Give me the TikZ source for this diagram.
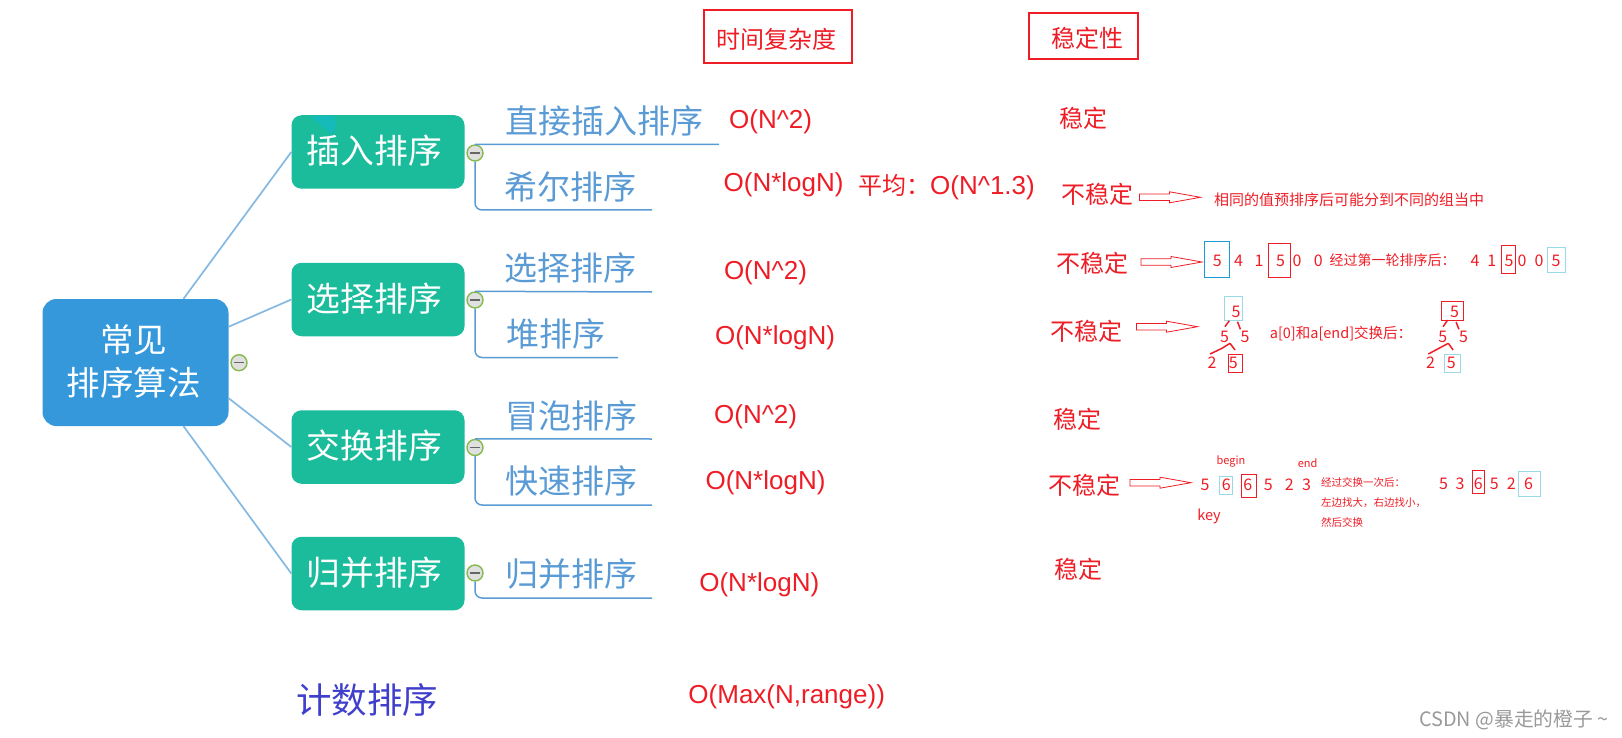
\documentclass[tikz,border=0pt]{standalone}
\usepackage{fontspec}
\setmainfont{Noto Sans CJK SC}
\newfontfamily\latinfont{Liberation Sans}
\usepackage{tikz}
\usetikzlibrary{calc}
\definecolor{rootblue}{HTML}{3498DB}
\definecolor{childgreen}{HTML}{1ABC9C}
\definecolor{leafblue}{HTML}{5B9BD5}
\definecolor{linkblue}{HTML}{85B9E2}
\definecolor{markred}{HTML}{EE1C25}
\definecolor{boxcyan}{HTML}{99D9EA}
\definecolor{boxblue}{HTML}{1A9AD6}
\definecolor{countblue}{HTML}{3F3FCC}
\definecolor{togglegreen}{HTML}{86B94E}
\definecolor{tealmark}{HTML}{14BBB8}
\tikzset{
  txt/.style={font=\fontsize{#1}{#1}\selectfont, inner sep=0pt, text height=#1*0.88pt, text depth=#1*0.12pt},
  root/.style={fill=rootblue, text=white, rounded corners=14pt, inner sep=0pt, minimum width=186pt, minimum height=127pt, align=center, font=\fontsize{33.5}{43}\selectfont},
  child/.style={txt=33.8, text depth=6pt, execute at end node={\hspace*{7pt}}, fill=childgreen, text=white, rounded corners=10pt, minimum width=173pt, minimum height=73.5pt},
  leaf/.style={txt=33, text=leafblue},
  note/.style={txt=#1, text=markred},
  cplx/.style={note=26, font=\fontsize{26}{26}\selectfont\latinfont},
  headtext/.style={txt=24, text=markred},
  headbox/.style={markred, line width=2pt},
  link/.style={linkblue, line width=1.7pt},
  leafline/.style={leafblue, line width=1.5pt, rounded corners=7pt},
  toggle/.style={circle, draw=togglegreen, fill=black!12, line width=1.4pt, minimum size=16pt, inner sep=0pt,
    path picture={\draw[black!60, line width=1.4pt] ($(path picture bounding box.center)+(-5,0)$) -- ++(10,0);}},
  redbox/.style={markred, line width=1pt},
  cyanbox/.style={boxcyan, line width=1pt},
  treeline/.style={markred, line width=1.5pt},
  hollowarrow/.pic={
    \draw[markred, fill=white, line width=0.8pt] (0,-3.3) -- (30,-3.3) -- (30,-5.5) -- (47,-2.5) -- (61,0) -- (47,2.5) -- (30,5.5) -- (30,3.3) -- (0,3.3) -- cycle;
  },
}
\begin{document}
\begin{tikzpicture}[x=1pt, y=-1pt]
  \useasboundingbox (0,0) rectangle (1622,738);
  % map
  \node[root] (sort) at (135.5,362.5) {常见\hspace*{4pt}\\排序算法\hspace*{4pt}\rule[-6pt]{0pt}{1pt}};
  \node[child] (insert) at (378,152) {插入排序};
  \node[child] (select) at (378,299.5) {选择排序};
  \node[child] (swap) at (378,447) {交换排序};
  \node[child] (merge) at (378,573.5) {归并排序};
  \fill[tealmark] (310.5,116) -- (334,116) -- (336.5,125) -- (332,135) -- cycle;
  \draw[link] (sort.53) -- (insert.west);
  \draw[link] (sort.21) -- (select.west);
  \draw[link] (sort.-21) -- (swap.west);
  \draw[link] (sort.-53) -- (merge.west);
  \node[leaf] (direct) at (604,120.5) {直接插入排序};
  \node[leaf] (shell) at (570.5,187) {希尔排序};
  \node[leaf] (choose) at (570.5,268) {选择排序};
  \node[leaf] (heap) at (555.5,333.5) {堆排序};
  \node[leaf] (bubble) at (571,416) {冒泡排序};
  \node[leaf] (quick) at (571,481) {快速排序};
  \node[leaf] (mergeleaf) at (571,574) {归并排序};
  \coordinate (directend) at (719,144.5);
  \coordinate (shellend) at (652,210);
  \coordinate (chooseend) at (652,292);
  \coordinate (heapend) at (618,357.5);
  \coordinate (bubbleend) at (652,439);
  \coordinate (quickend) at (652,505);
  \coordinate (mergeend) at (652,598);
  \node[toggle] (tgsort) at (239,362.7) {};
  \node[toggle] (tginsert) at (475,153) {};
  \node[toggle] (tgselect) at (475,300) {};
  \node[toggle] (tgswap) at (475,447.5) {};
  \node[toggle] (tgmerge) at (475,573) {};
  \draw[leafline] (tginsert.north) -- (directend);
  \draw[leafline] (tginsert.south) |- (shellend);
  \draw[leafline] (tgselect.north) -- (chooseend);
  \draw[leafline] (tgselect.south) |- (heapend);
  \draw[leafline] (tgswap.north) -- (bubbleend);
  \draw[leafline] (tgswap.south) |- (quickend);
  \draw[leafline] (tgmerge.south) |- (mergeend);
  % headers
  \draw[headbox] (704,10) rectangle (852,63);
  \draw[headbox] (1029,13) rectangle (1138,59);
  \node[headtext] (timehead) at (776,39.5) {时间复杂度};
  \node[headtext] (stablehead) at (1087.5,38.5) {稳定性};
  % complexity
  \node[cplx] (c1) at (770.6,119) {O(N\string^2)};
  \node[cplx] (c2) at (783.6,182) {O(N*logN)};
  \node[note=24] (c3) at (946.5,185) {平均：{\fontsize{26}{26}\latinfont O(N\string^1.3)}};
  \node[cplx] (c4) at (765.5,270) {O(N\string^2)};
  \node[cplx] (c5) at (775,335) {O(N*logN)};
  \node[cplx] (c6) at (755.6,414) {O(N\string^2)};
  \node[cplx] (c7) at (765.5,480) {O(N*logN)};
  \node[cplx] (c8) at (759.3,582) {O(N*logN)};
  \node[cplx] (c9) at (786.7,694) {O(Max(N,range))};
  \node[txt=35.5, text=countblue] (countsort) at (367,700) {计数排序};
  % stability
  \node[note=24] (s1) at (1083,118) {稳定};
  \node[note=24] (s2) at (1097,194) {不稳定};
  \node[note=24] (s3) at (1092,263) {不稳定};
  \node[note=24] (s4) at (1086,331) {不稳定};
  \node[note=24] (s5) at (1077,419) {稳定};
  \node[note=24] (s6) at (1084,485) {不稳定};
  \node[note=24] (s7) at (1078,569) {稳定};
  \pic at (1139.5,197.3) {hollowarrow};
  \pic at (1141,262) {hollowarrow};
  \pic at (1136.5,326.7) {hollowarrow};
  \pic at (1130,482.7) {hollowarrow};
  \node[note=15, anchor=west] (shellnote) at (1214,200) {相同的值预排序后可能分到不同的组当中};
  % selection row
  \draw[boxblue, line width=1pt] (1204.4,241.3) rectangle (1229.7,277.3);
  \draw[redbox] (1268.3,243.3) rectangle (1290.6,277.3);
  \draw[redbox] (1501.4,245.3) rectangle (1515.5,273.7);
  \draw[cyanbox] (1547.4,247.3) rectangle (1565.6,272.7);
  \node[note=16] (a1) at (1217.4,260) {5};
  \node[note=16] (a2) at (1238.6,260) {4};
  \node[note=16] (a3) at (1259,260) {1};
  \node[note=16] (a4) at (1280.5,260) {5};
  \node[note=16] (a5) at (1297,260) {0};
  \node[note=16] (a6) at (1318.4,260) {0};
  \node[note=14, anchor=west] (selnote) at (1329.5,260) {经过第一轮排序后：};
  \node[note=16] (b1) at (1475,260) {4};
  \node[note=16] (b2) at (1491.7,260) {1};
  \node[note=16] (b3) at (1509,260) {5};
  \node[note=16] (b4) at (1522,260) {0};
  \node[note=16] (b5) at (1539,260) {0};
  \node[note=16] (b6) at (1556,260) {5};
  % heap row
  \draw[cyanbox] (1224.5,296.3) rectangle (1242.3,320.3);
  \draw[redbox] (1228.6,354.3) rectangle (1242.7,372.3);
  \node[note=16] (h1) at (1236,311) {5};
  \node[note=16] (h2) at (1224.5,336.7) {5};
  \node[note=16] (h3) at (1245,336.7) {5};
  \node[note=16] (h4) at (1212,362.7) {2};
  \node[note=16] (h5) at (1233.4,362.7) {5};
  \draw[treeline] ($(h1)+(-6.7,9.7)$) -- ($(h2)+(0.4,-10)$);
  \draw[treeline] ($(h1)+(1.5,10.7)$) -- ($(h3)+(-4.6,-7.4)$);
  \draw[treeline] ($(h2)+(5.5,6.6)$) -- ($(h4)+(10,-14.4)$) -- ($(h4)+(-2,-8.7)$);
  \draw[treeline] ($(h2)+(5.5,6.6)$) -- ($(h5)+(1.6,-12.7)$);
  \node[note=14.5] (heapnote) at (1341,333) {a[0]和a[end]交换后：};
  \draw[redbox] (1441.3,301.3) rectangle (1463.5,320.3);
  \draw[cyanbox] (1444.2,354.3) rectangle (1460.6,372.3);
  \node[note=16] (k1) at (1454.6,311.3) {5};
  \node[note=16] (k2) at (1442.7,336.7) {5};
  \node[note=16] (k3) at (1463.5,336.7) {5};
  \node[note=16] (k4) at (1430.5,362.7) {2};
  \node[note=16] (k5) at (1451.3,362.7) {5};
  \draw[treeline] ($(k1)+(-7,8.7)$) -- ($(k2)+(0.4,-10)$);
  \draw[treeline] ($(k1)+(1.5,10.7)$) -- ($(k3)+(-4.6,-7.4)$);
  \draw[treeline] ($(k2)+(5.6,6.6)$) -- ($(k4)+(8.5,-14.4)$) -- ($(k4)+(-2.2,-8.7)$);
  \draw[treeline] ($(k2)+(5.6,6.6)$) -- ($(k5)+(1.8,-12.7)$);
  % quick row
  \node[note=11] (beginlabel) at (1231,460) {begin};
  \node[note=11] (endlabel) at (1307.6,463.3) {end};
  \draw[cyanbox] (1219.3,476) rectangle (1232.7,494.3);
  \draw[redbox] (1241.6,474.3) rectangle (1256.8,497.3);
  \node[note=16] (q1) at (1205,484.3) {5};
  \node[note=16] (q2) at (1226.3,484.3) {6};
  \node[note=16] (q3) at (1247.9,484.3) {6};
  \node[note=16] (q4) at (1268.3,484.3) {5};
  \node[note=16] (q5) at (1289.4,484.3) {2};
  \node[note=16] (q6) at (1306.5,484.3) {3};
  \node[note=14.5] (keylabel) at (1209,515) {key};
  \node[note=10.5, anchor=west] (qn1) at (1321,482.3) {经过交换一次后：};
  \node[note=10.5, anchor=west] (qn2) at (1321,502.7) {左边找大，右边找小，};
  \node[note=10.5, anchor=west] (qn3) at (1321,522.7) {然后交换};
  \draw[redbox] (1472.4,470) rectangle (1484.7,493.3);
  \draw[cyanbox] (1518.5,471.3) rectangle (1540.7,496.3);
  \node[note=16] (r1) at (1443.5,483.7) {5};
  \node[note=16] (r2) at (1460,483.7) {3};
  \node[note=16] (r3) at (1478.4,483.7) {6};
  \node[note=16] (r4) at (1494.3,483.7) {5};
  \node[note=16] (r5) at (1511.4,483.7) {2};
  \node[note=16] (r6) at (1528.5,483.7) {6};
  % watermark
  \node[txt=19.8, text=black!40, anchor=east] (mark) at (1609,719) {CSDN @暴走的橙子 \string~};
\end{tikzpicture}
\end{document}
